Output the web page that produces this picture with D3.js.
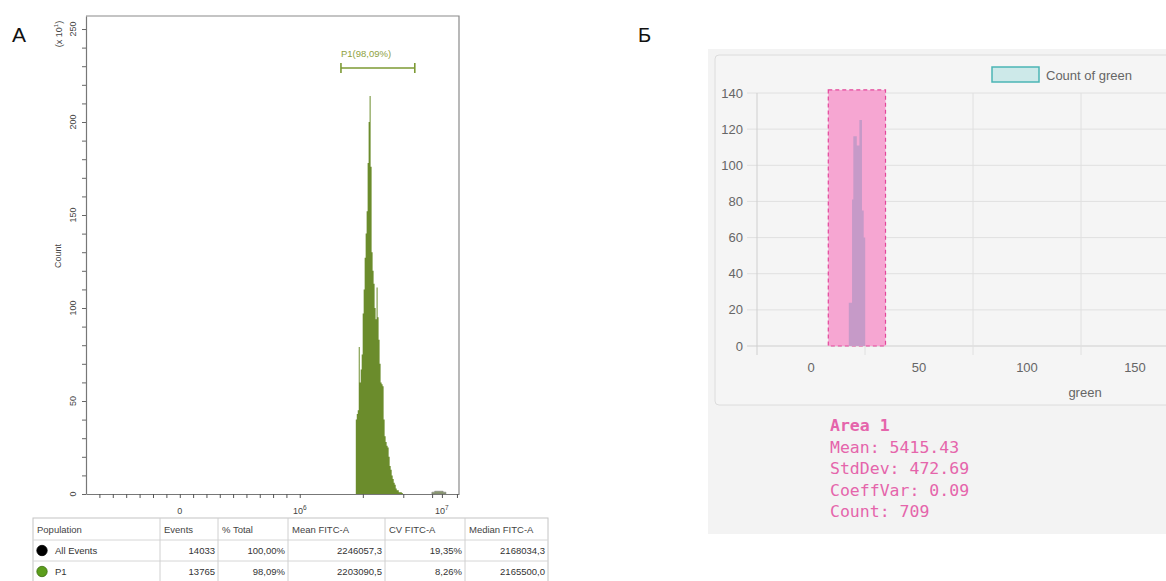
<!DOCTYPE html>
<html><head><meta charset="utf-8">
<script src="https://cdn.jsdelivr.net/npm/d3@7"></script>
<style>html,body{margin:0;padding:0;background:#fff;} svg{display:block;}</style>
</head><body>
<svg id="c" width="1166" height="581"></svg>
<script>
// ================= DATA =================
// Panel A (flow cytometry histogram, FITC-A)
const yTicksA = [0, 50, 100, 150, 200, 250];
const yMinorStepA = 10;
const xTickLabelsA = [
  {v: 0, base: "0", exp: ""},
  {v: 1e6, base: "10", exp: "6"},
  {v: 1e7, base: "10", exp: "7"}
];
const xMinorRightA = [2.9e6, 5.5e6, 8.6e6, 1.26e7];
// histogram bins: log-spaced FITC-A channels, counts in units of 10^1
const histLogStart = 6.413, histLogStep = 0.0069;
const histCounts = [40,43,45,79,60,67,75,97,110,127,140,152,178,200,214,176,130,120,113,100,
                    94,111,95,83,70,60,59,58,40,31,28,26,25,20,15,13,10,8,6,5,3,2,2,1,1,1,0.5];
const tailLogStart = 6.933, tailLogStep = 0.0188;
const tailCounts = [1, 1.5, 1.5, 1.5, 1];
const gateP1 = [2.03e6, 6.58e6];
const gateLabel = "P1(98,09%)";

const tableHeader = ["Population", "Events", "% Total", "Mean FITC-A", "CV FITC-A", "Median FITC-A"];
const tableRows = [
  ["All Events", "14033", "100,00%", "2246057,3", "19,35%", "2168034,3"],
  ["P1", "13765", "98,09%", "2203090,5", "8,26%", "2165500,0"]
];
const tableDots = ["#000000", "#5c9e1c"];

// Panel B (green channel histogram with area gate)
const yTicksB = [0, 20, 40, 60, 80, 100, 120, 140];
const xLabelsB = [0, 50, 100, 150];
const xGridB = [-25, 25, 75, 125, 175];
const greenEdges = [17.5, 19, 19.6, 21.2, 22.4, 23.6, 24.4, 25.1];
const greenCounts = [24, 81, 116, 111, 125, 75, 60];
const area1 = {x0: 8, x1: 34.5, top: 141.7};
const legendLabel = "Count of green";
const xTitleB = "green";
const statsLines = ["Area 1", "Mean: 5415.43", "StdDev: 472.69", "CoeffVar: 0.09", "Count: 709"];

// ================= DRAW =================
const svg = d3.select("#c");
const SANS = "'Liberation Sans', Arial, Helvetica, sans-serif";
const MONO = "'DejaVu Sans Mono', 'Liberation Mono', monospace";

// ---------- Panel A ----------
const A = {l: 86, t: 16, r: 459, b: 494};
const yA = d3.scaleLinear().domain([0, 257]).range([A.b, A.t]);
const xA = d3.scaleSymlog().constant(1.96e5).domain([-6.1e5, 1.3e7]).range([A.l, A.r]);

svg.append("text").attr("x", 12).attr("y", 42).attr("font-family", SANS)
  .attr("font-size", 21).attr("fill", "#111").text("A");

// frame top & right
svg.append("path").attr("d", `M${A.l},${A.t}H${A.r}V${A.b}`)
  .attr("fill", "none").attr("stroke", "#8a8a8a").attr("stroke-width", 1.2);

// histogram
function binsFromLog(start, step, counts) {
  const pts = counts.map((c, i) => ({x: Math.pow(10, start + i * step), y: c}));
  pts.push({x: Math.pow(10, start + counts.length * step), y: counts[counts.length - 1]});
  return pts;
}
const areaA = d3.area().curve(d3.curveStepAfter)
  .x(d => xA(d.x)).y0(yA(0)).y1(d => yA(d.y));
svg.append("path").datum(binsFromLog(histLogStart, histLogStep, histCounts))
  .attr("d", areaA).attr("fill", "#6b8c2c");
svg.append("path").datum(binsFromLog(tailLogStart, tailLogStep, tailCounts))
  .attr("d", areaA).attr("fill", "#8a9870").attr("stroke", "#777").attr("stroke-width", 0.5);

// y axis
const gyA = svg.append("g").attr("transform", `translate(${A.l},0)`)
  .call(d3.axisLeft(yA).tickValues(d3.range(0, 251, yMinorStepA)).tickSize(4).tickSizeOuter(0).tickFormat(""));
gyA.select(".domain").attr("stroke", "#777").attr("stroke-width", 1.2);
gyA.selectAll(".tick line").attr("stroke", "#666");
yTicksA.forEach(v => {
  svg.append("text").attr("transform", `translate(73,${yA(v)}) rotate(-90)`)
    .attr("text-anchor", "middle").attr("dominant-baseline", "central")
    .attr("font-family", SANS).attr("font-size", 9).attr("fill", "#444").text(v);
});
svg.append("text").attr("transform", `translate(58,256) rotate(-90)`)
  .attr("text-anchor", "middle").attr("dominant-baseline", "central")
  .attr("font-family", SANS).attr("font-size", 9).attr("fill", "#444").text("Count");
const mult = svg.append("text").attr("transform", `translate(59,34) rotate(-90)`)
  .attr("text-anchor", "middle").attr("dominant-baseline", "central")
  .attr("font-family", SANS).attr("font-size", 9).attr("fill", "#444");
mult.append("tspan").text("(x 10");
mult.append("tspan").attr("font-size", 6).attr("dy", -3).text("1");
mult.append("tspan").attr("dy", 3).text(")");

// x axis
const p0 = xA(xA.domain()[0]), pz = xA(0), p6 = xA(1e6);
const minorLeft = d3.range(1, 7).map(k => xA.invert(p0 + (pz - p0) * k / 7));
const minorMid = d3.range(1, 9).map(k => xA.invert(pz + (p6 - pz) * k / 9));
const xTickVals = [...minorLeft, 0, ...minorMid, 1e6, ...xMinorRightA, 1e7];
const gxA = svg.append("g").attr("transform", `translate(0,${A.b})`)
  .call(d3.axisBottom(xA).tickValues(xTickVals).tickSize(4).tickSizeOuter(0).tickFormat(""));
gxA.select(".domain").attr("stroke", "#777").attr("stroke-width", 1.2);
gxA.selectAll(".tick line").attr("stroke", "#555");
xTickLabelsA.forEach(t => {
  const tx = svg.append("text").attr("x", xA(t.v)).attr("y", 514).attr("text-anchor", "middle")
    .attr("font-family", SANS).attr("font-size", 9).attr("fill", "#444");
  tx.append("tspan").text(t.base);
  if (t.exp) tx.append("tspan").attr("font-size", 6.5).attr("dy", -4).text(t.exp);
});

// gate P1
const gx0 = xA(gateP1[0]), gx1 = xA(gateP1[1]), gy = 68;
svg.append("path").attr("d", `M${gx0},${gy}H${gx1}M${gx0},${gy - 5}V${gy + 5}M${gx1},${gy - 5}V${gy + 5}`)
  .attr("stroke", "#7d9a35").attr("stroke-width", 1.6).attr("fill", "none");
svg.append("text").attr("x", gx0).attr("y", 57).attr("font-family", SANS).attr("font-size", 9.5)
  .attr("fill", "#8ea13e").text(gateLabel);

// table
const colEdges = [33, 160, 218, 288, 385, 465, 548];
const rowEdges = [518, 540, 561, 582];
const TF = 9.5;
const tg = svg.append("g");
tg.append("rect").attr("x", colEdges[0]).attr("y", rowEdges[0])
  .attr("width", colEdges[6] - colEdges[0]).attr("height", rowEdges[3] - rowEdges[0])
  .attr("fill", "#fff").attr("stroke", "#c4c4c4");
rowEdges.slice(1, 3).forEach(y => tg.append("line").attr("x1", colEdges[0]).attr("x2", colEdges[6])
  .attr("y1", y).attr("y2", y).attr("stroke", "#d6d6d6"));
colEdges.slice(1, 6).forEach(x => tg.append("line").attr("x1", x).attr("x2", x)
  .attr("y1", rowEdges[0]).attr("y2", rowEdges[3]).attr("stroke", "#d0d0d0"));
tableHeader.forEach((h, i) => tg.append("text").attr("x", colEdges[i] + 4).attr("y", (rowEdges[0] + rowEdges[1]) / 2)
  .attr("dominant-baseline", "central").attr("font-family", SANS).attr("font-size", TF).attr("fill", "#444").text(h));
tableRows.forEach((row, r) => {
  const cy = (rowEdges[r + 1] + rowEdges[r + 2]) / 2;
  tg.append("circle").attr("cx", 42).attr("cy", cy).attr("r", 5.2)
    .attr("fill", tableDots[r]).attr("stroke", r ? "#3d6e10" : "#000").attr("stroke-width", 0.8);
  row.forEach((v, i) => {
    const t = tg.append("text").attr("y", cy).attr("dominant-baseline", "central")
      .attr("font-family", SANS).attr("font-size", TF).attr("fill", "#333").text(v);
    if (i === 0) t.attr("x", 55);
    else t.attr("x", colEdges[i + 1] - 3).attr("text-anchor", "end");
  });
});

// ---------- Panel B ----------
svg.append("text").attr("x", 638).attr("y", 42).attr("font-family", SANS)
  .attr("font-size", 20).attr("fill", "#111").text("Б");
svg.append("rect").attr("x", 708).attr("y", 49).attr("width", 470).attr("height", 485).attr("fill", "#f3f3f3");
svg.append("rect").attr("x", 715).attr("y", 55).attr("width", 470).attr("height", 350).attr("rx", 4)
  .attr("fill", "#f5f5f5").attr("stroke", "#dcdcdc");

const yB = d3.scaleLinear().domain([0, 140]).range([346, 93]);
const xB = d3.scaleLinear().domain([-25, 175]).range([757, 1189]);

// grid
yTicksB.forEach(v => svg.append("line").attr("x1", 747).attr("x2", 1166)
  .attr("y1", yB(v)).attr("y2", yB(v)).attr("stroke", v === 0 ? "#cfcfcf" : "#e0e0e0"));
xGridB.forEach((v, i) => svg.append("line").attr("x1", xB(v)).attr("x2", xB(v))
  .attr("y1", yB(140)).attr("y2", yB(0) + 9).attr("stroke", i === 0 ? "#cfcfcf" : "#e0e0e0"));
yTicksB.forEach(v => svg.append("text").attr("x", 743).attr("y", yB(v)).attr("text-anchor", "end")
  .attr("dominant-baseline", "central").attr("font-family", SANS).attr("font-size", 13).attr("fill", "#666").text(v));
xLabelsB.forEach(v => svg.append("text").attr("x", xB(v)).attr("y", 372).attr("text-anchor", "middle")
  .attr("font-family", SANS).attr("font-size", 13).attr("fill", "#666").text(v));
svg.append("text").attr("x", 1085).attr("y", 397).attr("text-anchor", "middle")
  .attr("font-family", SANS).attr("font-size", 13).attr("fill", "#666").text(xTitleB);

// area 1 box
svg.append("rect").attr("x", xB(area1.x0)).attr("y", yB(area1.top))
  .attr("width", xB(area1.x1) - xB(area1.x0)).attr("height", yB(0) - yB(area1.top))
  .attr("fill", "#f6a6d2").attr("stroke", "#e3479b").attr("stroke-width", 1.2).attr("stroke-dasharray", "4,3");

// green histogram
const greenPts = greenCounts.map((c, i) => ({x: greenEdges[i], y: c}));
greenPts.push({x: greenEdges[greenEdges.length - 1], y: greenCounts[greenCounts.length - 1]});
svg.append("path").datum(greenPts)
  .attr("d", d3.area().curve(d3.curveStepAfter).x(d => xB(d.x)).y0(yB(0)).y1(d => yB(d.y)))
  .attr("fill", "#c69ac8");

// legend
svg.append("rect").attr("x", 992).attr("y", 67).attr("width", 47).attr("height", 15)
  .attr("fill", "#cde9e9").attr("stroke", "#4bb5b5").attr("stroke-width", 1.5);
svg.append("text").attr("x", 1046).attr("y", 75).attr("dominant-baseline", "central")
  .attr("font-family", SANS).attr("font-size", 13).attr("fill", "#666").text(legendLabel);

// stats text
statsLines.forEach((s, i) => svg.append("text").attr("x", 830).attr("y", 431 + i * 21.5)
  .attr("font-family", MONO).attr("font-size", 16.5).attr("font-weight", i === 0 ? "bold" : "normal")
  .attr("fill", "#e565ab").text(s));
</script>
</body></html>
